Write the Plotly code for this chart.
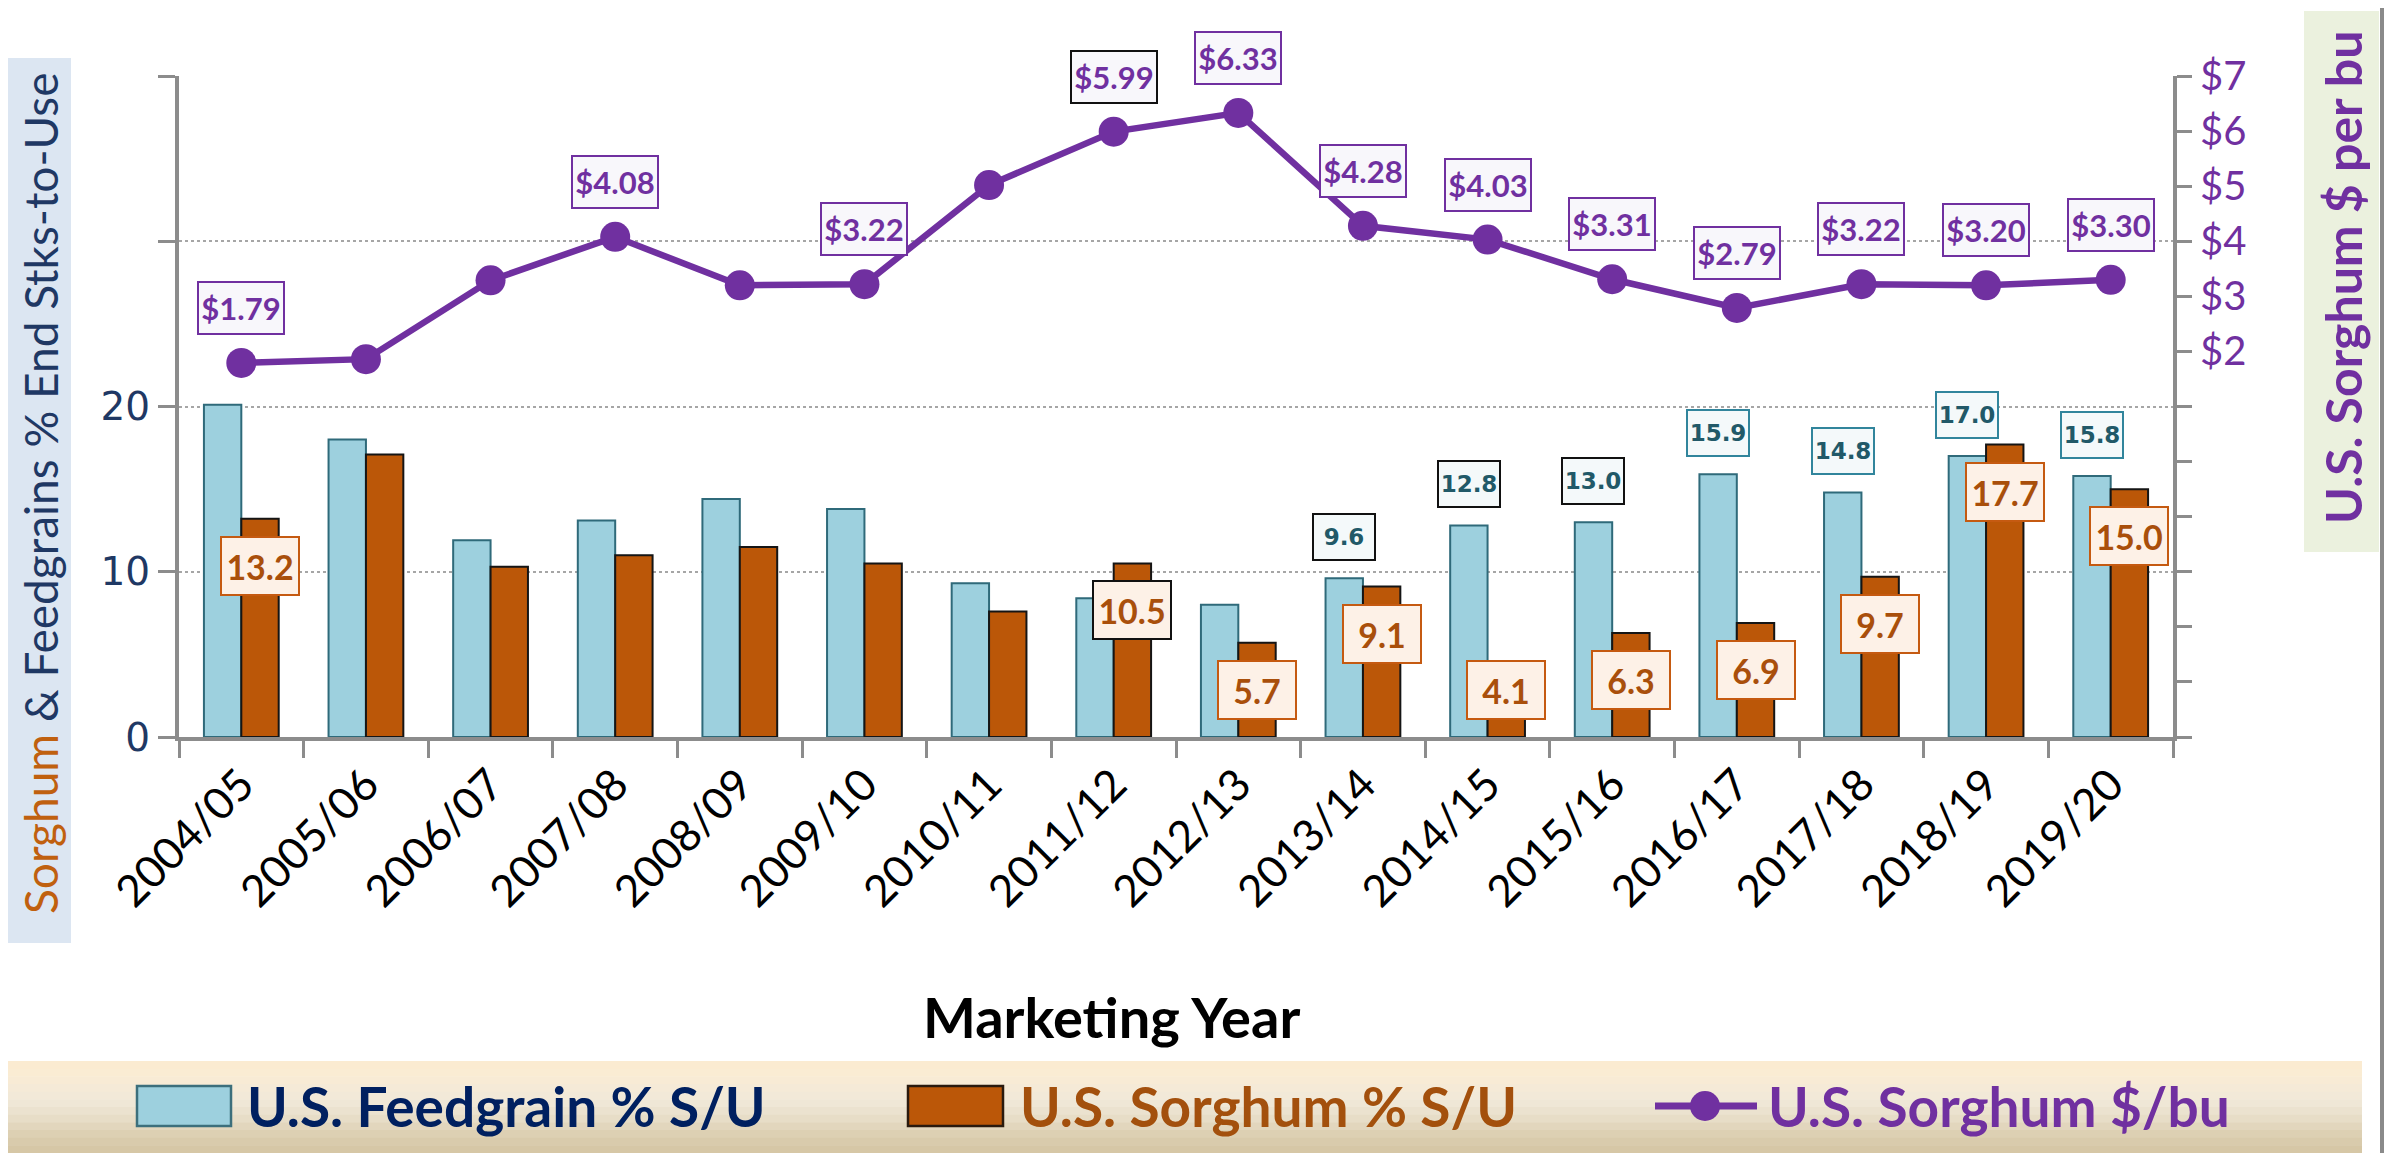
import plotly.graph_objects as go

# ---------------- data ----------------
years = ["2004/05", "2005/06", "2006/07", "2007/08", "2008/09", "2009/10", "2010/11", "2011/12",
         "2012/13", "2013/14", "2014/15", "2015/16", "2016/17", "2017/18", "2018/19", "2019/20"]
feedgrain_su = [20.1, 18.0, 11.9, 13.1, 14.4, 13.8, 9.3, 8.4, 8.0, 9.6, 12.8, 13.0, 15.9, 14.8, 17.0, 15.8]
sorghum_su = [13.2, 17.1, 10.3, 11.0, 11.5, 10.5, 7.6, 10.5, 5.7, 9.1, 4.1, 6.3, 6.9, 9.7, 17.7, 15.0]
sorghum_price = [1.79, 1.86, 3.29, 4.08, 3.20, 3.22, 5.02, 5.99, 6.33, 4.28, 4.03, 3.31, 2.79, 3.22, 3.20, 3.30]

price_labeled = [True, False, False, True, False, True, False, True, True, True, True, True, True, True, True, True]
price_dark = [False, False, False, False, False, False, False, True, False, False, False, False, False, False, False, False]
feed_labeled = [False, False, False, False, False, False, False, False, False, True, True, True, True, True, True, True]
feed_dark = [False, False, False, False, False, False, False, False, False, True, True, True, False, False, False, False]
sorg_labeled = [True, False, False, False, False, False, False, True, True, True, True, True, True, True, True, True]
sorg_dark = [False, False, False, False, False, False, False, True, False, False, False, False, False, False, False, False]

left_tickvals = [0, 10, 20, 30, 40]
left_ticktext = ["0", "10", "20", "", ""]
right_tickvals = [-5, -4, -3, -2, -1, 0, 1, 2, 3, 4, 5, 6, 7]
right_ticktext = ["", "", "", "", "", "", "", "$2", "$3", "$4", "$5", "$6", "$7"]

legend_labels = ["U.S. Feedgrain % S/U", "U.S. Sorghum % S/U", "U.S. Sorghum $/bu"]

# ---------------- style / geometry ----------------
OFF = 8                       # default page margin of the html body
SW, SH = 2399, 1153           # screen size
W, H = SW - OFF, SH - OFF     # figure size
L, R, T, B = 179, 2173, 76, 737   # plot area in screen pixels
LEFT_RANGE = [0, 40]
PPU = (B - T) / (LEFT_RANGE[1] - LEFT_RANGE[0])  # px per left-axis unit

BLUE = "#9dd0de"
BLUE_EDGE = "#2f6a7a"
ORANGE = "#bb5708"
ORANGE_EDGE = "#151515"
PURPLE = "#7030a0"
NAVY = "#1f3864"
AXIS_GRAY = "#8c8c8c"
BAR_OFFSET = 18.7


def px(xs):
    return (xs - L) / (R - L)


def py(ys):
    return (B - ys) / (B - T)


fig = go.Figure()
fig.add_trace(go.Bar(x=years, y=feedgrain_su, name=legend_labels[0],
                     marker=dict(color=BLUE, line=dict(color=BLUE_EDGE, width=2))))
fig.add_trace(go.Bar(x=years, y=sorghum_su, name=legend_labels[1],
                     marker=dict(color=ORANGE, line=dict(color=ORANGE_EDGE, width=2))))
fig.add_trace(go.Scatter(x=years, y=sorghum_price, name=legend_labels[2], yaxis="y2",
                         mode="lines+markers", line=dict(color=PURPLE, width=6.5),
                         marker=dict(color=PURPLE, size=30)))

annotations = []
# price labels
for yr, v, lab, dark in zip(years, sorghum_price, price_labeled, price_dark):
    if not lab:
        continue
    annotations.append(dict(x=yr, y=v, xref="x", yref="y2", yshift=55, showarrow=False,
                            text=f"<b>${v:.2f}</b>", font=dict(family="Lato", size=31, color=PURPLE),
                            bgcolor="#f8f7fb", bordercolor="#111111" if dark else PURPLE,
                            borderwidth=2, borderpad=1, width=82, height=48))
# feedgrain labels
for yr, v, lab, dark in zip(years, feedgrain_su, feed_labeled, feed_dark):
    if not lab:
        continue
    annotations.append(dict(x=yr, y=v, xref="x", yref="y", xshift=-BAR_OFFSET, yshift=41,
                            showarrow=False, text=f"<b>{v:.1f}</b>",
                            font=dict(family="DejaVu Sans", size=23, color="#215968"),
                            bgcolor="#f4f9fa", bordercolor="#111111" if dark else "#31859c",
                            borderwidth=2, borderpad=1, width=58, height=42))
# sorghum labels
for yr, v, lab, dark in zip(years, sorghum_su, sorg_labeled, sorg_dark):
    if not lab:
        continue
    shift = max(-47, 47 - v * PPU)
    annotations.append(dict(x=yr, y=v, xref="x", yref="y", xshift=BAR_OFFSET, yshift=shift,
                            showarrow=False, text=f"<b>{v:.1f}</b>",
                            font=dict(family="Lato", size=34, color="#a94f0b"),
                            bgcolor="#fdf1e7", bordercolor="#111111" if dark else "#c55a11",
                            borderwidth=2, borderpad=1, width=74, height=54))

# axis titles
annotations.append(dict(xref="paper", yref="paper", x=px(40), y=py(494), showarrow=False,
                        xanchor="center", yanchor="middle", textangle=-90,
                        text="<span style='color:#c0600f'>Sorghum</span> & Feedgrains % End Stks-to-Use",
                        font=dict(family="Lato", size=46, color=NAVY)))
annotations.append(dict(xref="paper", yref="paper", x=px(2343), y=py(278), showarrow=False,
                        xanchor="center", yanchor="middle", textangle=-90,
                        text="<b>U.S. Sorghum $ per bu</b>",
                        font=dict(family="Lato", size=50, color=PURPLE)))
annotations.append(dict(xref="paper", yref="paper", x=px(1111), y=py(1016), showarrow=False,
                        xanchor="center", yanchor="middle",
                        text="<b>Marketing Year</b>", font=dict(family="Lato", size=56, color="#000000")))

# legend texts
LEG_Y = 1106
leg_x = [245, 1018, 1766]
leg_colors = ["#002060", "#a3500d", PURPLE]
for lx, lab, col in zip(leg_x, legend_labels, leg_colors):
    annotations.append(dict(xref="paper", yref="paper", x=px(lx), y=py(LEG_Y), xanchor="left",
                            yanchor="middle", showarrow=False, text=f"<b>{lab}</b>",
                            font=dict(family="Lato", size=55, color=col)))

shapes = []
# axis-title background boxes
shapes.append(dict(type="rect", xref="paper", yref="paper", layer="below",
                   x0=px(3), x1=px(71), y0=py(943), y1=py(58), fillcolor="#dce6f2", line=dict(width=0)))
shapes.append(dict(type="rect", xref="paper", yref="paper", layer="below",
                   x0=px(2304), x1=px(2379), y0=py(552), y1=py(11), fillcolor="#ebf1de", line=dict(width=0)))
# legend band with vertical gradient
band_cols = ["#fbebd1", "#faecd3", "#f8ebd5", "#f5ead7", "#f2e9d8", "#efe7d6", "#ebe2cf",
             "#e7ddc7", "#e2d6bd", "#ddd0b3", "#d9cbac", "#d6c7a6"]
band_top, band_bot = 1061, 1153
n = len(band_cols)
for i, c in enumerate(band_cols):
    y0 = band_top + (band_bot - band_top) * i / n
    y1 = band_top + (band_bot - band_top) * (i + 1) / n
    shapes.append(dict(type="rect", xref="paper", yref="paper", layer="below",
                       x0=px(0), x1=px(2362), y0=py(y1 + 0.5), y1=py(y0), fillcolor=c, line=dict(width=0)))
# legend swatches
shapes.append(dict(type="rect", xref="paper", yref="paper", x0=px(137), x1=px(231),
                   y0=py(1126), y1=py(1086), fillcolor=BLUE, line=dict(color="#3c6f7c", width=2.5)))
shapes.append(dict(type="rect", xref="paper", yref="paper", x0=px(908), x1=px(1003),
                   y0=py(1126), y1=py(1086), fillcolor=ORANGE, line=dict(color="#2a1a0e", width=2.5)))
shapes.append(dict(type="line", xref="paper", yref="paper", x0=px(1655), x1=px(1757),
                   y0=py(LEG_Y), y1=py(LEG_Y), line=dict(color=PURPLE, width=7)))
shapes.append(dict(type="circle", xref="paper", yref="paper", x0=px(1690), x1=px(1720),
                   y0=py(LEG_Y + 15), y1=py(LEG_Y - 15), fillcolor=PURPLE, line=dict(width=0)))
# frame
shapes.append(dict(type="line", xref="paper", yref="paper", x0=px(0), x1=px(2384),
                   y0=py(5), y1=py(5), line=dict(color="#8a8a8a", width=4)))
shapes.append(dict(type="line", xref="paper", yref="paper", x0=px(2382), x1=px(2382),
                   y0=py(4), y1=py(1153), line=dict(color="#8a8a8a", width=4)))
shapes.append(dict(type="rect", xref="paper", yref="paper", layer="below", x0=px(2394), x1=px(2400),
                   y0=py(1128), y1=py(185), fillcolor="#c9a887", line=dict(width=0)))

fig.update_layout(
    width=W, height=H,
    margin=dict(l=L - OFF, r=SW - R, t=T - OFF, b=SH - B, autoexpand=False),
    paper_bgcolor="white", plot_bgcolor="white",
    font=dict(family="Lato", color="#000000"),
    barmode="group", bargap=0.4, bargroupgap=0,
    showlegend=False,
    annotations=annotations, shapes=shapes,
    xaxis=dict(type="category", range=[-0.5, len(years) - 0.5], showline=True, linecolor=AXIS_GRAY,
               linewidth=4, ticks="outside", tickson="boundaries", ticklen=17, tickwidth=3,
               tickcolor=AXIS_GRAY, tickangle=-45, tickfont=dict(family="Lato", size=44, color="#000000"),
               showgrid=False, zeroline=False),
    yaxis=dict(range=LEFT_RANGE, tickvals=left_tickvals, ticktext=left_ticktext,
               showline=True, linecolor=AXIS_GRAY, linewidth=4, ticks="outside", ticklen=17,
               tickwidth=3, tickcolor=AXIS_GRAY, showgrid=True, gridcolor="#a6a6a6", griddash="dot",
               gridwidth=1.5, zeroline=False, tickfont=dict(family="DejaVu Sans", size=39, color=NAVY)),
    yaxis2=dict(range=[-5, 7], tickvals=right_tickvals, ticktext=right_ticktext, overlaying="y",
                side="right", showline=True, linecolor=AXIS_GRAY, linewidth=4, ticks="outside",
                ticklen=15, tickwidth=3, tickcolor=AXIS_GRAY, showgrid=False, zeroline=False,
                tickfont=dict(family="Lato", size=40, color=PURPLE)),
)

fig.write_html("out.html")
